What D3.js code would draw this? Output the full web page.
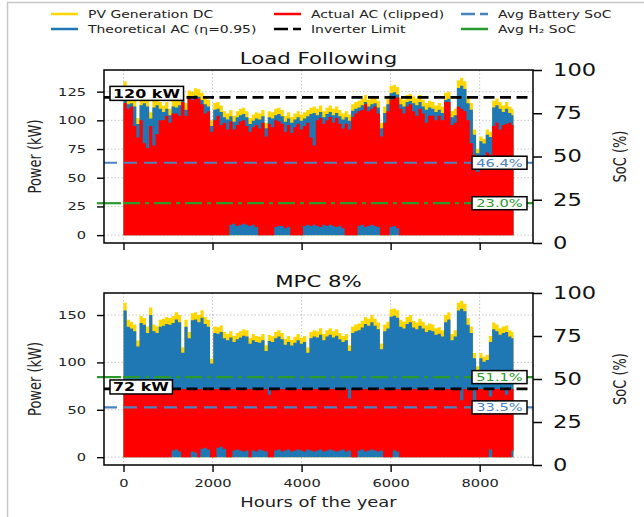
<!DOCTYPE html>
<html>
<head>
<meta charset="utf-8">
<script src="https://cdn.jsdelivr.net/npm/d3@7"></script>
<style>
body { margin: 0; background: #fff; }
svg { display: block; font-family: 'DejaVu Sans', sans-serif; }
</style>
</head>
<body>
<div id="canvas"></div>
<script>
// values, one value per 3-day bin (72 h), 122 bins
var binHours = 72;
var hoursInYear = 8760;

// Load Following
var dcLoad = [134, 120, 121, 118, 102, 119, 121, 118, 107, 117, 119, 116,
    113, 116, 110, 118, 117, 119, 124, 115, 126, 125, 128, 127,
    124, 120, 118, 100, 115, 116, 113, 108, 106, 109, 104, 108,
    110, 111, 108, 102, 105, 107, 106, 109, 98, 108, 107, 110,
    111, 109, 104, 107, 103, 106, 108, 105, 107, 109, 111, 112,
    110, 113, 108, 111, 113, 110, 112, 109, 106, 108, 105, 114,
    116, 117, 119, 122, 118, 120, 121, 117, 98, 112, 120, 130,
    131, 129, 120, 118, 122, 123, 121, 119, 122, 118, 115, 117,
    116, 113, 115, 112, 124, 125, 108, 110, 135, 137, 134, 121,
    115, 92, 75, 86, 84, 92, 90, 117, 119, 116, 113, 116, 112, 110];
var acLoad = [115, 110, 112, 95, 85, 100, 80, 76, 95, 78, 88, 100,
    100, 104, 98, 106, 106, 104, 116, 104, 119, 118, 120, 119,
    114, 106, 108, 90, 100, 104, 96, 98, 92, 99, 92, 96,
    99, 100, 95, 90, 94, 96, 93, 98, 86, 97, 94, 100,
    99, 97, 90, 96, 89, 94, 97, 92, 95, 98, 85, 78,
    100, 102, 97, 100, 103, 98, 102, 97, 93, 97, 92, 103,
    106, 108, 109, 114, 108, 110, 112, 106, 86, 98, 108, 118,
    120, 120, 110, 106, 112, 114, 108, 104, 110, 106, 98, 104,
    104, 100, 104, 100, 116, 116, 96, 98, 112, 110, 108, 100,
    80, 70, 55, 62, 60, 72, 70, 95, 98, 92, 96, 97, 98, 96];
var acLoadMin = [0, 0, 0, 0, 0, 0, 0, 0, 0, 0, 0, 0,
    0, 0, 0, 0, 0, 0, 0, 0, 0, 0, 0, 0,
    0, 0, 0, 0, 0, 0, 0, 0, 0, 9, 10, 8,
    9, 10, 9, 8, 9, 7, 0, 0, 0, 0, 0, 7,
    8, 8, 6, 7, 0, 0, 0, 0, 8, 9, 8, 9,
    8, 7, 9, 8, 9, 8, 7, 8, 6, 0, 0, 0,
    0, 8, 9, 7, 8, 9, 8, 7, 0, 0, 0, 7,
    8, 6, 0, 0, 0, 0, 0, 0, 0, 0, 0, 0,
    0, 0, 0, 0, 0, 0, 0, 0, 0, 0, 0, 0,
    0, 0, 0, 0, 0, 0, 0, 0, 0, 0, 0, 0, 0, 0];

// MPC 8%
var dcMpc = [163, 145, 143, 140, 123, 149, 147, 138, 158, 140, 138, 145,
    146, 148, 147, 149, 153, 150, 116, 145, 132, 152, 153, 150,
    155, 148, 145, 104, 138, 137, 139, 132, 130, 133, 128, 131,
    133, 135, 134, 126, 130, 128, 127, 130, 118, 129, 128, 132,
    134, 131, 125, 128, 124, 127, 130, 126, 128, 116, 132, 134,
    133, 136, 130, 134, 136, 133, 135, 131, 128, 130, 118, 138,
    140, 141, 144, 148, 146, 150, 146, 142, 120, 140, 143, 156,
    157, 155, 145, 143, 148, 150, 144, 142, 146, 143, 139, 141,
    140, 136, 137, 134, 150, 153, 130, 134, 163, 165, 162, 147,
    138, 110, 96, 110, 106, 108, 128, 142, 140, 136, 138, 139, 134, 132];
var acMpc = [72, 72, 72, 72, 72, 72, 72, 72, 72, 72, 72, 72,
    72, 72, 72, 72, 72, 72, 72, 72, 72, 72, 72, 72,
    72, 72, 72, 72, 72, 72, 72, 72, 72, 72, 72, 72,
    72, 72, 72, 72, 72, 72, 72, 72, 72, 66, 72, 72,
    72, 72, 72, 72, 72, 72, 72, 72, 72, 72, 72, 72,
    72, 72, 72, 72, 72, 72, 72, 72, 72, 72, 62, 72,
    72, 72, 72, 72, 72, 72, 72, 72, 72, 72, 72, 72,
    72, 72, 72, 72, 72, 72, 72, 72, 72, 72, 72, 72,
    72, 72, 72, 72, 72, 72, 72, 72, 72, 60, 72, 72,
    72, 58, 72, 72, 72, 72, 64, 72, 72, 72, 72, 66, 72, 72];
var acMpcMin = [0, 0, 0, 0, 0, 0, 0, 0, 0, 0, 0, 0,
    0, 0, 0, 7, 8, 6, 0, 0, 0, 6, 5, 0,
    9, 10, 8, 0, 0, 10, 11, 9, 0, 0, 7, 8,
    7, 6, 7, 0, 7, 6, 8, 7, 6, 0, 0, 7,
    8, 6, 7, 8, 6, 7, 8, 7, 6, 8, 7, 6,
    7, 8, 6, 7, 8, 7, 6, 7, 8, 6, 7, 0,
    0, 7, 8, 6, 7, 8, 7, 6, 7, 0, 0, 0,
    7, 6, 0, 0, 0, 0, 0, 0, 0, 0, 0, 0,
    0, 0, 0, 0, 0, 0, 0, 0, 0, 0, 0, 0,
    0, 0, 0, 0, 0, 0, 8, 0, 0, 0, 0, 0, 0, 7];

var eta = 0.95;
var titles = ['Load Following', 'MPC 8%'];
var inverterLimits = [120, 72];
var batterySoc = [46.4, 33.5];
var h2Soc = [23.0, 51.1];
var xTicks = [0, 2000, 4000, 6000, 8000];
var socTicks = [0, 25, 50, 75, 100];
var powerTicksLoad = [0, 25, 50, 75, 100, 125];
var powerTicksMpc = [0, 50, 100, 150];
var legendLabels = ['PV Generation DC', 'Actual AC (clipped)', 'Avg Battery SoC',
    'Theoretical AC (\u03b7=0.95)', 'Inverter Limit', 'Avg H\u2082 SoC'];

// the picture is stretched sideways, so text gets stretched too
var SX = 1.33;
var W = 644, H = 517;
var yellow = '#FFD700', blue = '#1f77b4', red = '#FF0000';
var batColor = '#4a84c0', h2Color = '#2a9a2a';

var svg = d3.select('#canvas').append('svg')
    .attr('width', W)
    .attr('height', H);

// light frame round the figure
svg.append('path')
    .attr('d', 'M7.5,' + H + 'V2.5H' + W)
    .attr('fill', 'none')
    .attr('stroke', '#c8c8c8')
    .attr('stroke-width', 1.5);

function stretchText(sel, x, y, extra) {
    return sel.attr('transform', 'translate(' + x + ',' + y + ') scale(' + SX + ',1)' + (extra || ''));
}

var x = d3.scaleLinear()
    .domain([-0.05 * hoursInYear, 1.05 * hoursInYear])
    .range([104, 533]);

var panels = [
    {top: 70, bottom: 243, dc: dcLoad, ac: acLoad, acMin: acLoadMin, ticks: powerTicksLoad, boxDy: -4, xLabels: false},
    {top: 293, bottom: 465, dc: dcMpc, ac: acMpc, acMin: acMpcMin, ticks: powerTicksMpc, boxDy: -2, xLabels: true}
];

panels.forEach(function(p, k) {
    var g = svg.append('g');
    var maxV = d3.max(p.dc);
    var y = d3.scaleLinear().domain([-0.05 * maxV, 1.05 * maxV]).range([p.bottom, p.top]);
    var soc = d3.scaleLinear().domain([0, 100]).range([p.bottom, p.top]);

    // grid
    g.selectAll('.vgrid').data(xTicks).enter().append('line')
        .attr('x1', function(d) { return x(d); })
        .attr('x2', function(d) { return x(d); })
        .attr('y1', p.top).attr('y2', p.bottom)
        .attr('stroke', '#b8b8b8').attr('stroke-width', 0.8)
        .attr('stroke-dasharray', '1.5,2');
    g.selectAll('.hgrid').data(p.ticks).enter().append('line')
        .attr('x1', 104).attr('x2', 533)
        .attr('y1', function(d) { return y(d); })
        .attr('y2', function(d) { return y(d); })
        .attr('stroke', '#b8b8b8').attr('stroke-width', 0.8)
        .attr('stroke-dasharray', '1.5,2');

    var pts = p.dc.map(function(d, i) {
        return {h: i * binHours, dc: d, ac: p.ac[i], lo: p.acMin[i]};
    });
    var last = pts[pts.length - 1];
    pts.push({h: hoursInYear, dc: last.dc, ac: last.ac, lo: last.lo});

    var area = d3.area()
        .curve(d3.curveStepAfter)
        .x(function(d) { return x(d.h); });

    g.append('path').datum(pts)
        .attr('d', area.y0(y(0)).y1(function(d) { return y(d.dc); }))
        .attr('fill', yellow);
    g.append('path').datum(pts)
        .attr('d', area.y0(y(0)).y1(function(d) { return y(eta * d.dc); }))
        .attr('fill', blue);
    g.append('path').datum(pts)
        .attr('d', area.y0(function(d) { return y(d.lo); }).y1(function(d) { return y(d.ac); }))
        .attr('fill', red);

    // reference lines
    var yLim = y(inverterLimits[k]);
    g.append('line')
        .attr('x1', 104).attr('x2', 533).attr('y1', yLim).attr('y2', yLim)
        .attr('stroke', '#000').attr('stroke-width', 2.8)
        .attr('stroke-dasharray', '11,5.5');

    var yBat = soc(batterySoc[k]);
    g.append('line')
        .attr('x1', 104).attr('x2', 533).attr('y1', yBat).attr('y2', yBat)
        .attr('stroke', batColor).attr('stroke-width', 2.2)
        .attr('stroke-dasharray', '13,7');

    var yH2 = soc(h2Soc[k]);
    g.append('line')
        .attr('x1', 97).attr('x2', 121).attr('y1', yH2).attr('y2', yH2)
        .attr('stroke', h2Color).attr('stroke-width', 2.2);
    g.append('line')
        .attr('x1', 123).attr('x2', 533).attr('y1', yH2).attr('y2', yH2)
        .attr('stroke', h2Color).attr('stroke-width', 2.2)
        .attr('stroke-dasharray', '17,5,4,5');

    // inverter label box
    var limBox = g.append('rect');
    var limText = stretchText(g.append('text'), 0, 0)
        .attr('font-size', 12).attr('font-weight', 'bold')
        .attr('dy', '0.36em')
        .attr('text-anchor', 'start')
        .text(inverterLimits[k] + ' kW');
    var tw = limText.node().getBBox().width * SX;
    stretchText(limText, 113, yLim + p.boxDy);
    limBox.attr('x', 110).attr('y', yLim + p.boxDy - 7)
        .attr('width', tw + 6).attr('height', 14)
        .attr('fill', '#fff').attr('stroke', '#000').attr('stroke-width', 1.5);

    // SoC label boxes
    [[batterySoc[k], yBat, batColor], [h2Soc[k], yH2, h2Color]].forEach(function(s) {
        g.append('rect')
            .attr('x', 472).attr('y', s[1] - 6.5)
            .attr('width', 55).attr('height', 13)
            .attr('fill', '#fff').attr('stroke', '#000').attr('stroke-width', 1.5);
        stretchText(g.append('text'), 499.5, s[1])
            .attr('font-size', 11)
            .attr('dy', '0.36em')
            .attr('text-anchor', 'middle')
            .attr('fill', s[2])
            .text(s[0].toFixed(1) + '%');
    });

    // frame
    g.append('rect')
        .attr('x', 104).attr('y', p.top)
        .attr('width', 429).attr('height', p.bottom - p.top)
        .attr('fill', 'none').attr('stroke', '#000').attr('stroke-width', 1.5);

    // left axis
    var left = g.append('g').attr('transform', 'translate(104,0)')
        .call(d3.axisLeft(y).tickValues(p.ticks).tickSize(7));
    left.select('.domain').remove();
    left.selectAll('line').attr('stroke-width', 1.4);
    left.selectAll('text').each(function() {
        stretchText(d3.select(this).attr('x', null), -18, 0)
            .attr('font-size', 11).attr('font-family', 'DejaVu Sans').attr('fill', '#222');
    });

    // right axis
    var right = g.append('g').attr('transform', 'translate(533,0)')
        .call(d3.axisRight(soc).tickValues(socTicks).tickSize(9));
    right.select('.domain').remove();
    right.selectAll('line').attr('stroke-width', 1.5);
    right.selectAll('text').each(function() {
        stretchText(d3.select(this).attr('x', null), 20, 0)
            .attr('font-size', 17).attr('font-family', 'DejaVu Sans').attr('fill', '#111');
    });

    // bottom axis
    var bottom = g.append('g').attr('transform', 'translate(0,' + p.bottom + ')')
        .call(d3.axisBottom(x).tickValues(xTicks).tickSize(7).tickFormat(d3.format('d')));
    bottom.select('.domain').remove();
    bottom.selectAll('line').attr('stroke-width', 1.4);
    if (p.xLabels) {
        bottom.selectAll('text').each(function() {
            stretchText(d3.select(this).attr('y', null), 0, 14)
                .attr('font-size', 11).attr('font-family', 'DejaVu Sans').attr('fill', '#222');
        });
    } else {
        bottom.selectAll('text').remove();
    }

    // titles and axis names
    stretchText(g.append('text'), 318.5, p.top - 6)
        .attr('font-size', 16).attr('text-anchor', 'middle').attr('fill', '#111')
        .text(titles[k]);
    var cy = (p.top + p.bottom) / 2;
    stretchText(g.append('text'), 35, cy, ' rotate(-90)')
        .attr('font-size', 13).attr('text-anchor', 'middle').attr('dy', '0.35em').attr('fill', '#222')
        .text('Power (kW)');
    stretchText(g.append('text'), 620, cy, ' rotate(-90)')
        .attr('font-size', 13).attr('text-anchor', 'middle').attr('dy', '0.35em').attr('fill', '#222')
        .text('SoC (%)');
});

stretchText(svg.append('text'), 318.5, 502)
    .attr('font-size', 13.5).attr('text-anchor', 'middle').attr('dy', '0.35em').attr('fill', '#222')
    .text('Hours of the year');

// legend, 3 columns x 2 rows
var legendStyles = [
    {color: yellow, dash: null}, {color: red, dash: null}, {color: batColor, dash: '14,5'},
    {color: blue, dash: null}, {color: '#000', dash: '14,5'}, {color: h2Color, dash: null}
];
var colX = [51, 274, 461];
var rowY = [14, 29];
var legend = svg.append('g');
legendLabels.forEach(function(lbl, i) {
    var cx = colX[i % 3], ly = rowY[Math.floor(i / 3)];
    legend.append('line')
        .attr('x1', cx).attr('x2', cx + 27).attr('y1', ly).attr('y2', ly)
        .attr('stroke', legendStyles[i].color).attr('stroke-width', 2.5)
        .attr('stroke-dasharray', legendStyles[i].dash);
    stretchText(legend.append('text'), cx + 37, ly)
        .attr('font-size', 10.5).attr('dy', '0.36em').attr('fill', '#222')
        .text(lbl);
});
</script>
</body>
</html>
